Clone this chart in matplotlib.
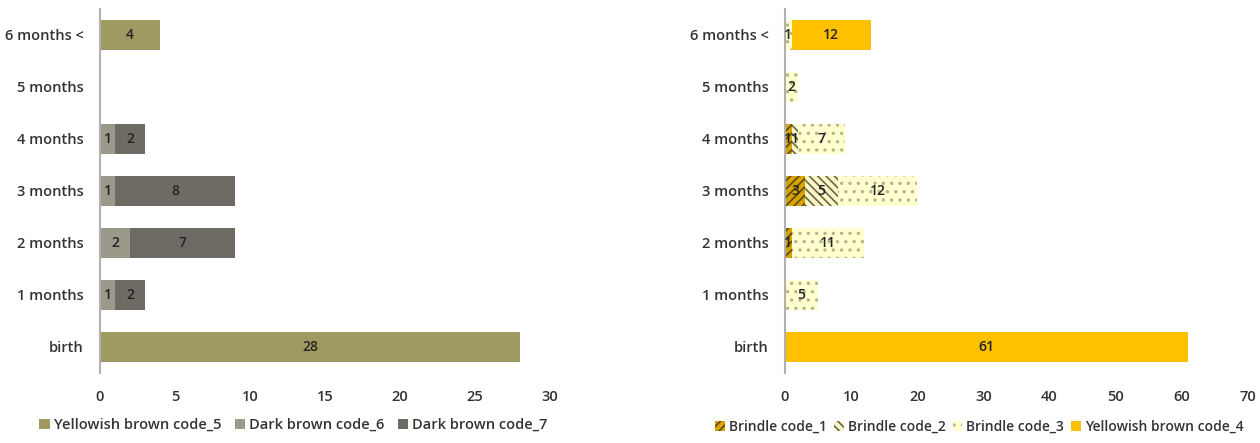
import matplotlib

matplotlib.use("Agg")
import matplotlib.pyplot as plt
import numpy as np

plt.rcParams["font.family"] = ["Open Sans", "DejaVu Sans"]
plt.rcParams["font.weight"] = "semibold"
plt.rcParams["hatch.linewidth"] = 1.2

ages = ["birth", "1 months", "2 months", "3 months", "4 months", "5 months", "6 months <"]

# left panel
code_5 = [28, 0, 0, 0, 0, 0, 4]
code_6 = [0, 1, 2, 1, 1, 0, 0]
code_7 = [0, 2, 7, 8, 2, 0, 0]

# right panel
code_1 = [0, 0, 1, 3, 1, 0, 0]
code_2 = [0, 0, 0, 5, 1, 0, 0]
code_3 = [0, 5, 11, 12, 7, 2, 1]
code_4 = [61, 0, 0, 0, 0, 0, 12]

TEXT = "#333333"
BAR_H = 0.56

fig = plt.figure(figsize=(12.6, 4.43), dpi=100)
ax1 = fig.add_axes([100 / 1260, 1 - 373 / 443, 450 / 1260, 364 / 443])
ax2 = fig.add_axes([785 / 1260, 1 - 373 / 443, 463 / 1260, 364 / 443])

y = np.arange(len(ages))


def stack(ax, series, styles):
    left = np.zeros(len(ages))
    for vals, st in zip(series, styles):
        vals = np.array(vals, dtype=float)
        bars = ax.barh(y, vals, left=left, height=BAR_H, label=st["label"],
                       color=st["color"], edgecolor=st.get("hc", st["color"]),
                       hatch=st.get("hatch"), linewidth=0)
        labels = [f"{int(v)}" if v > 0 else "" for v in vals]
        ax.bar_label(bars, labels=labels, label_type="center",
                     fontsize=10, color="#222222", fontweight="semibold")
        left += vals


stack(ax1, [code_5, code_6, code_7], [
    {"label": "Yellowish brown code_5", "color": "#9f9a62"},
    {"label": "Dark brown code_6", "color": "#9b998a"},
    {"label": "Dark brown code_7", "color": "#6d6b63"},
])

stack(ax2, [code_1, code_2, code_3, code_4], [
    {"label": "Brindle code_1", "color": "#d9a400", "hatch": "////", "hc": "#5a4a10"},
    {"label": "Brindle code_2", "color": "#fbf7cc", "hatch": "\\\\\\\\", "hc": "#6b6740"},
    {"label": "Brindle code_3", "color": "#ffffd0", "hatch": "..", "hc": "#b8b48a"},
    {"label": "Yellowish brown code_4", "color": "#ffc000"},
])

for ax, xmax, step in [(ax1, 30, 5), (ax2, 70, 10)]:
    ax.set_xlim(0, xmax)
    ax.set_ylim(-0.5, len(ages) - 0.5)
    ax.set_xticks(np.arange(0, xmax + 1, step))
    ax.set_yticks(y)
    ax.set_yticklabels(ages)
    for s in ["top", "right", "bottom"]:
        ax.spines[s].set_visible(False)
    ax.spines["left"].set_color("#b0b0b0")
    ax.spines["left"].set_linewidth(1.5)
    ax.tick_params(axis="both", length=0, labelsize=10.5, colors=TEXT)
    ax.tick_params(axis="x", pad=12)
    ax.tick_params(axis="y", pad=12)

ax1.legend(loc="upper center", bbox_to_anchor=(0.43, -0.1), ncol=3, frameon=False,
           fontsize=10.5, handlelength=0.7, handleheight=0.7, handletextpad=0.3,
           columnspacing=0.9, labelcolor=TEXT, borderaxespad=0.2)
ax2.legend(loc="upper center", bbox_to_anchor=(0.42, -0.105), ncol=4, frameon=False,
           fontsize=10, handlelength=0.7, handleheight=0.7, handletextpad=0.3,
           columnspacing=0.5, labelcolor=TEXT, borderaxespad=0.2)

fig.savefig("out.png", dpi=100)
